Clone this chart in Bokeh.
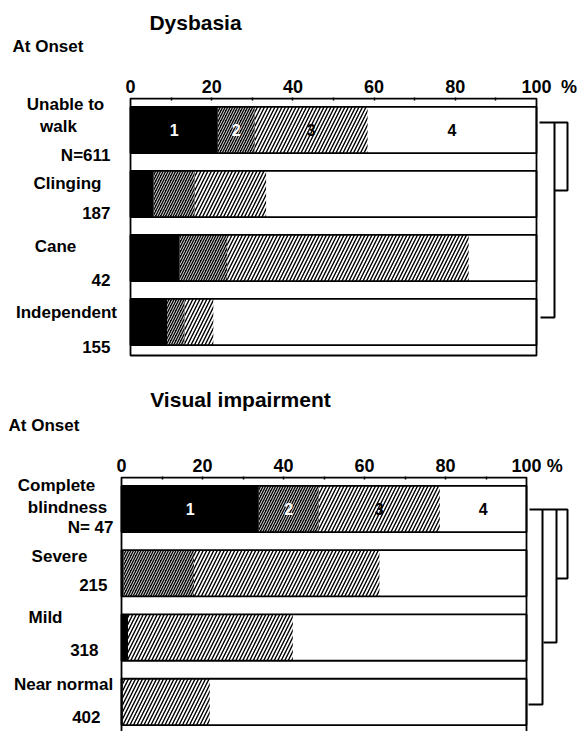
from bokeh.plotting import figure
from bokeh.models import Range1d, LinearAxis, FixedTicker, ColumnDataSource
from bokeh.layouts import column
from bokeh.embed import file_html
from bokeh.resources import INLINE
from bokeh.core.properties import value

# ---------------- data ----------------
ticks = [0, 20, 40, 60, 80, 100]
minor_ticks = [10, 20, 30, 40, 50, 60, 70, 80, 90]
grade_labels = ["1", "2", "3", "4"]

dys_title = "Dysbasia"
dys_cat_lines = [["Unable to", "walk"], ["Clinging"], ["Cane"], ["Independent"]]
dys_n = ["N=611", "187", "42", "155"]
dys_1 = [21.5, 5.7, 12.1, 9.0]
dys_2 = [9.1, 10.1, 11.7, 4.3]
dys_3 = [27.8, 17.6, 59.5, 7.1]

vis_title = "Visual impairment"
vis_cat_lines = [["Complete", "blindness"], ["Severe"], ["Mild"], ["Near normal"]]
vis_n = ["N= 47", "215", "318", "402"]
vis_1 = [33.9, 0.5, 1.6, 0.3]
vis_2 = [14.8, 17.4, 0.0, 0.0]
vis_3 = [29.9, 45.8, 40.7, 21.5]

subtitle = "At Onset"
unit_label = "%"

# ---------------- layout (page pixels) ----------------
FONT = value("Liberation Sans")
W = 577
TEXT_DY = -6  # correction between measured baseline and rendered baseline

top_cfg = dict(
    head_top=0, head_h=70, title_xy=(195, 28), sub_xy=(12, 52),
    chart_top=70, chart_h=295, frame_top=97, frame_bottom=360,
    x0=130, sx=4.06, c0=129.5, row=64.0, pct_at=108,
    name_pos=[[(65, -19.5), (58, 2.5)], [(67, -4.5)], [(55, -5.5)], [(66, -3.5)]],
    n_pos=[(110, 31.5), (110, 24.5), (110, 27.5), (110, 30.5)],
    box_bottom=355,
    brackets=[
        [(539, 122), (567, 122), (567, 190), (554, 190)],
        [(554, 122), (554, 317), (540, 317)],
    ],
)
bot_cfg = dict(
    head_top=365, head_h=75, title_xy=(240, 405), sub_xy=(8, 431),
    chart_top=440, chart_h=291, frame_top=476, frame_bottom=731,
    x0=121, sx=4.05, c0=508.5, row=64.3, pct_at=107,
    name_pos=[[(56, -18.0), (67, 4.0)], [(59, -10.8)], [(45, -14.1)], [(63, -11.4)]],
    n_pos=[(113, 24.5), (107, 17.2), (98, 17.9), (100, 20.6)],
    box_bottom=770,
    brackets=[
        [(529, 509), (567, 509), (567, 578), (556, 578)],
        [(556, 509), (556, 642), (543, 642)],
        [(542, 509), (542, 704), (528, 704)],
    ],
)


def make_header(cfg, title):
    h = cfg["head_h"]
    p = figure(width=W, height=h, x_range=Range1d(0, W), y_range=Range1d(h, 0),
               output_backend="svg", toolbar_location=None,
               x_axis_type=None, y_axis_type=None,
               min_border_left=0, min_border_right=0, min_border_top=0, min_border_bottom=0,
               outline_line_color=None)
    tx, ty = cfg["title_xy"]
    p.text(x=[tx], y=[ty - cfg["head_top"] + TEXT_DY], text=[title], text_font=FONT,
           text_font_style="bold", text_font_size="21px", text_align="center",
           text_baseline="alphabetic", text_color="black")
    sx, sy = cfg["sub_xy"]
    p.text(x=[sx], y=[sy - cfg["head_top"] + TEXT_DY], text=[subtitle], text_font=FONT,
           text_font_style="bold", text_font_size="17px", text_align="left",
           text_baseline="alphabetic", text_color="black")
    return p


def make_chart(cfg, cat_lines, n_labels, s1, s2, s3):
    dx = lambda px: (px - cfg["x0"]) / cfg["sx"]
    dy = lambda py: (py - cfg["c0"]) / cfg["row"]
    chart_bottom = cfg["chart_top"] + cfg["chart_h"]
    p = figure(
        width=W, height=cfg["chart_h"],
        x_range=Range1d(dx(0), dx(W)),
        y_range=Range1d(dy(cfg["frame_bottom"]), dy(cfg["frame_top"])),
        output_backend="svg", toolbar_location=None,
        x_axis_type=None, y_axis_type=None,
        min_border_left=0, min_border_right=0,
        min_border_top=cfg["frame_top"] - cfg["chart_top"],
        min_border_bottom=chart_bottom - cfg["frame_bottom"],
        outline_line_color=None, background_fill_color="white",
    )
    ax = LinearAxis(ticker=FixedTicker(ticks=ticks + [cfg["pct_at"]], minor_ticks=minor_ticks))
    ax.major_label_overrides = {cfg["pct_at"]: unit_label}
    ax.axis_line_color = None
    ax.major_tick_in = 0
    ax.major_tick_out = 0
    ax.minor_tick_in = 3
    ax.minor_tick_out = 0
    ax.minor_tick_line_width = 1.5
    ax.minor_tick_line_color = "black"
    ax.major_label_standoff = 1
    ax.major_label_text_font = "Liberation Sans"
    ax.major_label_text_font_style = "bold"
    ax.major_label_text_font_size = "18px"
    ax.major_label_text_color = "black"
    p.add_layout(ax, "above")

    n = len(s1)
    rows = list(range(n))
    c1 = [a for a in s1]
    c2 = [a + b for a, b in zip(s1, s2)]
    c3 = [a + b + c for a, b, c in zip(s1, s2, s3)]
    src = ColumnDataSource(dict(
        y=rows, zero=[0] * n, full=[100] * n, c1=c1, c2=c2, c3=c3))
    h = 0.72
    p.hbar(y="y", left="zero", right="full", height=h, source=src,
           fill_color="white", line_color=None)
    p.hbar(y="y", left="c2", right="c3", height=h, source=src,
           fill_color="white", line_color=None,
           hatch_pattern="/", hatch_color="black", hatch_scale=7, hatch_weight=1.4)
    p.hbar(y="y", left="c1", right="c2", height=h, source=src,
           fill_color="black", line_color=None,
           hatch_pattern="/", hatch_color="white", hatch_scale=5, hatch_weight=0.9)
    p.hbar(y="y", left="zero", right="c1", height=h, source=src,
           fill_color="black", line_color=None)
    p.hbar(y="y", left="zero", right="full", height=h, source=src,
           fill_color=None, line_color="black", line_width=1.8)
    p.quad(left=[0], right=[100], top=[dy(cfg["frame_top"] + 1)],
           bottom=[dy(cfg["box_bottom"])], fill_color=None,
           line_color="black", line_width=1.8)

    seg_left = [0, c1[0], c2[0], c3[0]]
    seg_right = [c1[0], c2[0], c3[0], 100]
    mids = [(a + b) / 2 for a, b in zip(seg_left, seg_right)]
    p.text(x=mids, y=[0] * 4, text=grade_labels,
           text_color=["white", "white", "black", "black"],
           text_font=FONT, text_font_style="bold", text_font_size="16px",
           text_align="center", text_baseline="middle")

    tx, ty, tt, toff = [], [], [], []
    for i, lines in enumerate(cat_lines):
        for line, (px, off) in zip(lines, cfg["name_pos"][i]):
            tx.append(dx(px)); ty.append(i); tt.append(line); toff.append(off + TEXT_DY)
    p.text(x=tx, y=ty, text=tt, y_offset=toff,
           text_font=FONT, text_font_style="bold", text_font_size="17px",
           text_align="center", text_baseline="alphabetic", text_color="black")
    nx = [dx(px) for px, off in cfg["n_pos"]]
    noff = [off + TEXT_DY for px, off in cfg["n_pos"]]
    p.text(x=nx, y=rows, text=n_labels, y_offset=noff,
           text_font=FONT, text_font_style="bold", text_font_size="17px",
           text_align="right", text_baseline="alphabetic", text_color="black")

    xs = [[dx(a) for a, b in br] for br in cfg["brackets"]]
    ys = [[dy(b) for a, b in br] for br in cfg["brackets"]]
    p.multi_line(xs=xs, ys=ys, line_color="black", line_width=2)
    return p


h1 = make_header(top_cfg, dys_title)
p1 = make_chart(top_cfg, dys_cat_lines, dys_n, dys_1, dys_2, dys_3)
h2 = make_header(bot_cfg, vis_title)
p2 = make_chart(bot_cfg, vis_cat_lines, vis_n, vis_1, vis_2, vis_3)
layout = column(h1, p1, h2, p2, spacing=0)
open("out.html", "w").write(file_html(layout, INLINE))
